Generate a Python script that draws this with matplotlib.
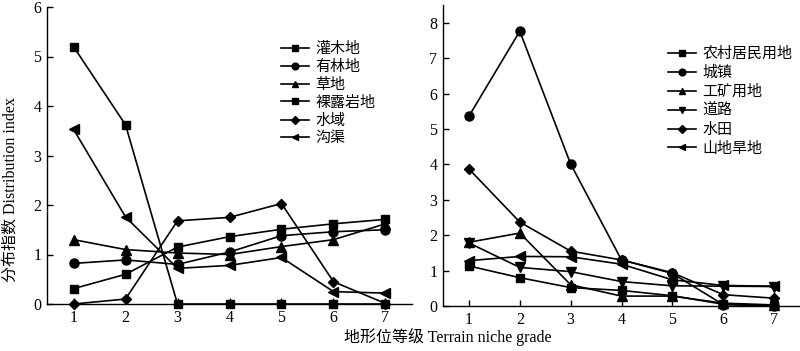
import numpy as np
import matplotlib
matplotlib.use("Agg")
import matplotlib.pyplot as plt

plt.rcParams["font.family"] = ["Liberation Serif", "Noto Sans CJK SC"]

grades = [1, 2, 3, 4, 5, 6, 7]

# left panel
left_names = ["灌木地", "有林地", "草地", "裸露岩地", "水域", "沟渠"]
shrub = [5.2, 3.62, 0.0, 0.0, 0.0, 0.0, 0.0]
forest = [0.82, 0.89, 0.80, 1.05, 1.38, 1.46, 1.50]
grass = [1.30, 1.10, 1.03, 1.00, 1.16, 1.30, 1.62]
rock = [0.31, 0.60, 1.15, 1.36, 1.51, 1.62, 1.71]
water = [0.0, 0.10, 1.68, 1.75, 2.03, 0.45, 0.01]
canal = [3.53, 1.76, 0.72, 0.78, 0.94, 0.25, 0.22]

# right panel
right_names = ["农村居民用地", "城镇", "工矿用地", "道路", "水田", "山地旱地"]
rural = [1.13, 0.80, 0.52, 0.44, 0.29, 0.05, 0.02]
town = [5.36, 7.76, 4.01, 1.30, 0.92, 0.04, 0.0]
mining = [1.80, 2.06, 0.60, 0.28, 0.28, 0.08, 0.03]
road = [1.78, 1.09, 0.97, 0.69, 0.57, 0.56, 0.55]
paddy = [3.87, 2.37, 1.55, 1.30, 0.94, 0.32, 0.22]
dryland = [1.28, 1.40, 1.39, 1.18, 0.74, 0.58, 0.56]

left_series = [shrub, forest, grass, rock, water, canal]
right_series = [rural, town, mining, road, paddy, dryland]
left_markers = ["s", "o", "^", "s", "D", "<"]
right_markers = ["s", "o", "^", "v", "D", "<"]
msize = {"s": 5.5, "o": 6.5, "^": 6.5, "v": 6.5, "D": 5, "<": 6.5}

fig = plt.figure(figsize=(8, 3.51), dpi=100)
ax1 = fig.add_axes([47 / 800, 47 / 351, 365 / 800, 297 / 351])
ax2 = fig.add_axes([443 / 800, 45 / 351, 357 / 800, 301 / 351])


def draw(ax, series, names, markers, ylim, yticks, legend_anchor, spacing):
    for vals, name, m in zip(series, names, markers):
        ax.plot(grades, vals, color="black", lw=1.2, marker=m, ms=msize[m],
                label=name, clip_on=False, zorder=3)
    ax.set_xlim(0.49, 7.51)
    ax.set_ylim(*ylim)
    ax.set_xticks(grades)
    ax.set_yticks(yticks)
    for s in ["top", "right"]:
        ax.spines[s].set_visible(False)
    for s in ["left", "bottom"]:
        ax.spines[s].set_linewidth(1.0)
    ax.tick_params(direction="in", labelsize=11.5, length=4, width=1.0, pad=4)
    ax.legend(loc="upper left", bbox_to_anchor=legend_anchor, frameon=False,
              fontsize=10.8, handlelength=1.9, handletextpad=0.4, labelspacing=spacing,
              markerscale=0.75, borderaxespad=0, borderpad=0)


draw(ax1, left_series, left_names, left_markers, (0, 6), range(0, 7), (0.64, 0.882), 0.26)
draw(ax2, right_series, right_names, right_markers, (0, 8.5), range(0, 9), (0.63, 0.862), 0.32)

fig.text(0.013, 0.46, "分布指数 Distribution index", rotation=90, ha="center", va="center", fontsize=11.5)
fig.text(0.56, 0.04, "地形位等级 Terrain niche grade", ha="center", va="center", fontsize=11.5)

fig.savefig("out.png", dpi=100)
